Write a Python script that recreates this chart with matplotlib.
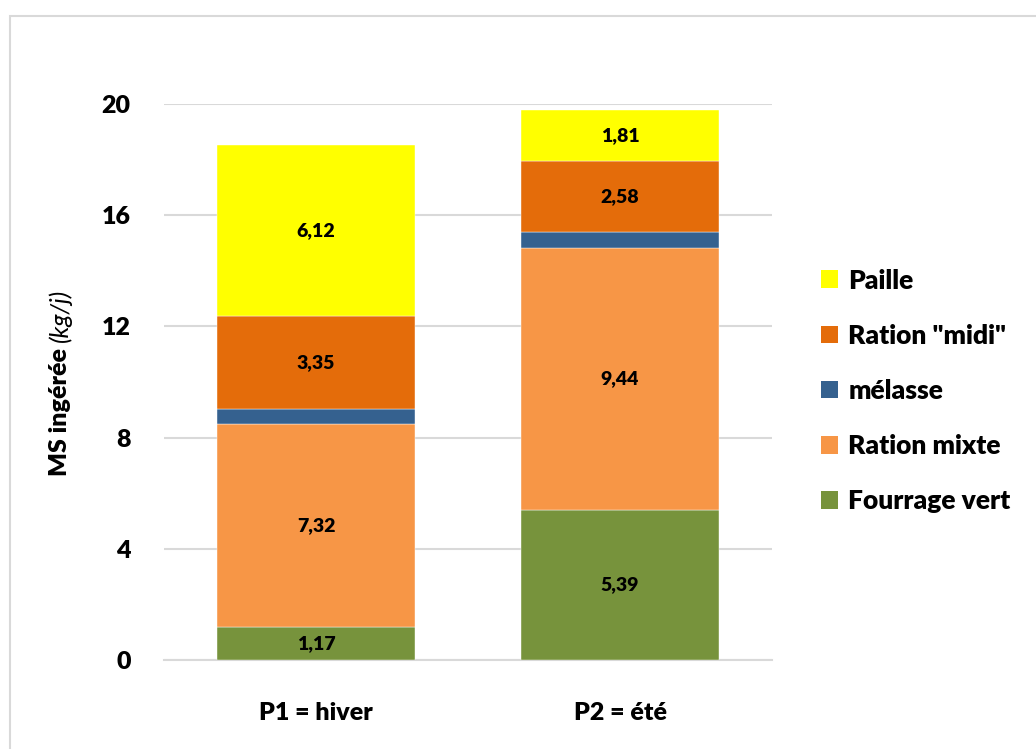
import matplotlib
matplotlib.use('Agg')
import numpy as np
from matplotlib import pyplot as plt
from matplotlib.patches import Rectangle, Patch

# Data
periods = ['P1 = hiver', 'P2 = été']
fourrage_vert = [1.17, 5.39]
ration_mixte = [7.32, 9.44]
melasse = [0.55, 0.55]
ration_midi = [3.35, 2.58]
paille = [6.12, 1.81]

series = [
    ('Fourrage vert', fourrage_vert, '#77933c', True),
    ('Ration mixte', ration_mixte, '#f79646', True),
    ('mélasse', melasse, '#35618f', False),
    ('Ration "midi"', ration_midi, '#e46c0a', True),
    ('Paille', paille, '#ffff00', True),
]

plt.rcParams['font.family'] = ['Lato', 'DejaVu Sans']
W = 'heavy'

fig = plt.figure(figsize=(10.36, 7.49), dpi=100)
ax = fig.add_axes([164/1036, 1-660/749, 608/1036, 556/749])

x = np.arange(len(periods))
bottom = np.zeros(len(periods))
handles = []
for name, vals, col, show in series:
    vals = np.array(vals)
    ax.bar(x, vals, width=0.65, bottom=bottom, color=col,
           edgecolor='white', linewidth=0.3, zorder=3)
    if show:
        for xi, b, v in zip(x, bottom, vals):
            ax.text(xi, b + v/2, f'{v:.2f}'.replace('.', ','),
                    ha='center', va='center', fontsize=14,
                    fontweight=W, zorder=4)
    handles.append(Patch(facecolor=col, label=name))
    bottom += vals

ax.set_xlim(-0.5, 1.5)
ax.set_ylim(0, 20)
ax.set_yticks([0, 4, 8, 12, 16, 20])
ax.set_xticks(x)
ax.set_xticklabels(periods)
ax.tick_params(axis='both', length=0, labelsize=18)
ax.tick_params(axis='x', pad=30)
ax.tick_params(axis='y', pad=24)
for lab in ax.get_xticklabels() + ax.get_yticklabels():
    lab.set_fontweight(W)
ax.grid(axis='y', color='#d9d9d9', linewidth=1.5, zorder=0)
for s in ['top', 'right', 'left']:
    ax.spines[s].set_visible(False)
ax.spines['bottom'].set_color('#d9d9d9')
ax.spines['bottom'].set_linewidth(1.5)

# y label: bold part + italic unit, stacked along the rotated baseline
fig.canvas.draw()
r = fig.canvas.get_renderer()
lx = 60
t1 = fig.text(lx/1036, 0, 'MS ingérée ', rotation=90, fontsize=18,
              fontweight=W, ha='center', va='bottom')
t2 = fig.text(lx/1036, 0, '(kg/j)', rotation=90, fontsize=18,
              style='italic', ha='center', va='bottom')
h1 = t1.get_window_extent(r).height
h2 = t2.get_window_extent(r).height
yc = 749 - 382
y0 = yc - (h1 + h2)/2
t1.set_y(y0/749)
t2.set_y((y0 + h1)/749)

fig.legend(handles=handles[::-1], loc='upper left',
           bbox_to_anchor=(810/1036, 1-258/749), frameon=False,
           prop={'size': 19, 'weight': W},
           handlelength=0.65, handleheight=0.65, handletextpad=0.4,
           labelspacing=1.18, borderaxespad=0)

# outer frame (only left and top edges visible)
fig.patches.append(Rectangle((10/1036, -0.1), 1.2, 1.1 - 16/749,
                             transform=fig.transFigure, fill=False,
                             edgecolor='#d9d9d9', linewidth=1.5))

fig.savefig('out.png', dpi=100)
